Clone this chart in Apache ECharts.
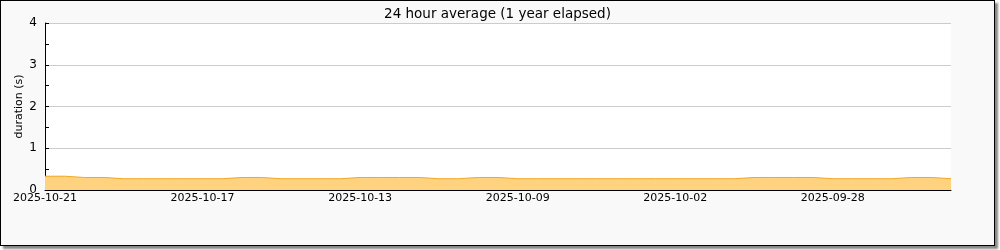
<!DOCTYPE html>
<html>
<head>
<meta charset="utf-8">
<script src="https://cdn.jsdelivr.net/npm/echarts@6/dist/echarts.min.js"></script>
<style>
  html, body { margin: 0; padding: 0; background: #ffffff; }
  #box { position: absolute; left: 0; top: 0; width: 993px; height: 244px; border: 1px solid #000; background: #f9f9f9; box-shadow: 3px 3px 2px #888; }
  #chart { width: 993px; height: 244px; }
</style>
</head>
<body>
<div id="box"><div id="chart"></div></div>
<script>
const titleText = '24 hour average (1 year elapsed)';
const yAxisName = 'duration (s)';
const categories = [
  '2025-10-21 00:00', '2025-10-20 12:00', '2025-10-20 00:00', '2025-10-19 12:00', '2025-10-19 00:00',
  '2025-10-18 12:00', '2025-10-18 00:00', '2025-10-17 12:00', '2025-10-17 00:00', '2025-10-16 12:00',
  '2025-10-16 00:00', '2025-10-15 12:00', '2025-10-15 00:00', '2025-10-14 12:00', '2025-10-14 00:00',
  '2025-10-13 12:00', '2025-10-13 00:00', '2025-10-12 12:00', '2025-10-12 00:00', '2025-10-11 12:00',
  '2025-10-11 00:00', '2025-10-10 12:00', '2025-10-10 00:00', '2025-10-09 12:00', '2025-10-09 00:00',
  '2025-10-08 00:00', '2025-10-07 00:00', '2025-10-06 00:00', '2025-10-05 00:00', '2025-10-04 00:00',
  '2025-10-03 00:00', '2025-10-02 12:00', '2025-10-02 00:00', '2025-10-01 12:00', '2025-10-01 00:00',
  '2025-09-30 12:00', '2025-09-30 00:00', '2025-09-29 12:00', '2025-09-29 00:00', '2025-09-28 12:00',
  '2025-09-28 00:00', '2025-09-27 12:00', '2025-09-27 00:00', '2025-09-26 12:00', '2025-09-26 00:00',
  '2025-09-25 12:00', '2025-09-25 00:00'
];
const durations = [
  0.33, 0.30, 0.30, 0.27, 0.27, 0.27, 0.27, 0.27, 0.27, 0.30,
  0.30, 0.27, 0.27, 0.27, 0.27, 0.30, 0.30, 0.30, 0.30, 0.27,
  0.27, 0.30, 0.30, 0.27, 0.27, 0.27, 0.27, 0.27, 0.27, 0.27,
  0.27, 0.27, 0.27, 0.27, 0.27, 0.30, 0.30, 0.30, 0.30, 0.27,
  0.27, 0.27, 0.27, 0.30, 0.30, 0.27, 0.27
];
const yMin = 0, yMax = 4, yInterval = 1;

const chart = echarts.init(document.getElementById('chart'), null, { renderer: 'canvas' });
const font = 'DejaVu Sans';
chart.setOption({
  animation: false,
  backgroundColor: '#f9f9f9',
  title: {
    text: titleText, left: 'center', top: 1,
    textStyle: { fontFamily: font, fontSize: 13.5, fontWeight: 'normal', color: '#000' }
  },
  grid: { left: 44, right: 43, top: 22, bottom: 55, show: true, backgroundColor: '#fff', borderWidth: 0, containLabel: false },
  xAxis: {
    type: 'category', data: categories, boundaryGap: false,
    axisLine: { lineStyle: { color: '#000', width: 1 } },
    axisTick: { inside: true, length: 4, interval: 3, lineStyle: { color: '#000' } },
    axisLabel: {
      interval: 7, margin: 3, fontFamily: font, fontSize: 11, color: '#000',
      formatter: v => v.split(' ')[0]
    },
    splitLine: { show: false }
  },
  yAxis: {
    type: 'value', min: yMin, max: yMax, interval: yInterval,
    name: yAxisName, nameLocation: 'middle', nameGap: 20, nameRotate: 90, nameMoveOverlap: false,
    nameTextStyle: { fontFamily: font, fontSize: 11, color: '#000' },
    axisLine: { show: true, lineStyle: { color: '#000', width: 1 } },
    axisTick: { show: true, inside: true, length: 4, lineStyle: { color: '#000' } },
    minorTick: { show: true, splitNumber: 2, length: 4, lineStyle: { color: '#000' } },
    axisLabel: { margin: 8, fontFamily: font, fontSize: 12, color: '#000' },
    splitLine: { show: true, lineStyle: { color: '#cccccc', width: 1 } }
  },
  series: [{
    type: 'line', data: durations, step: 'end', symbol: 'none',
    lineStyle: { color: '#f5a623', width: 1 },
    areaStyle: { color: '#ffd27f', opacity: 1 }
  }]
});
</script>
</body>
</html>
